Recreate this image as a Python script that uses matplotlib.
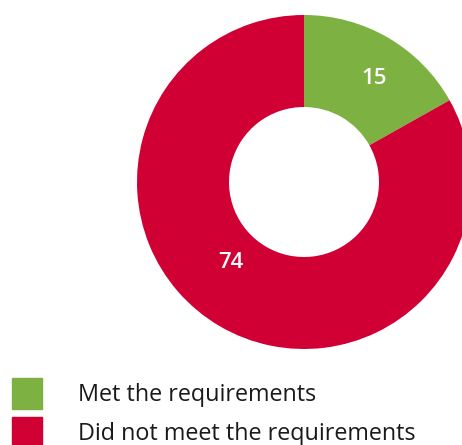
import numpy as np
import matplotlib.pyplot as plt
from matplotlib.patches import Rectangle

plt.rcParams['font.family'] = ['Open Sans', 'DejaVu Sans']

categories = ["Met the requirements", "Did not meet the requirements"]
values = [15, 74]
colors = ["#7DB142", "#D10034"]

W, H = 462, 445
fig = plt.figure(figsize=(W / 100, H / 100), dpi=100)

# donut axes: center ~(304,182) px, outer radius ~167 px
cx, cy, R = 304, 182, 167
ax = fig.add_axes([(cx - R) / W, (H - cy - R) / H, 2 * R / W, 2 * R / H])
wedges, _ = ax.pie(values, colors=colors, startangle=90, counterclock=False,
                   radius=1.0, wedgeprops=dict(width=1 - 75 / 167, edgecolor="none"))
ax.set_xlim(-1, 1)
ax.set_ylim(-1, 1)
ax.set_aspect("equal")
ax.axis("off")

# value labels (angle in degrees, radius as fraction of outer)
label_pos = [(56, 0.75), (228, 0.65)]
for w, v, (ang, r) in zip(wedges, values, label_pos):
    a = np.deg2rad(ang)
    ax.text(r * np.cos(a), r * np.sin(a), str(v), color="white", fontsize=16,
            fontweight="semibold", ha="center", va="center")

# legend
for i, (lab, c) in enumerate(zip(categories, colors)):
    top = 378 + i * 39
    fig.patches.append(Rectangle((12 / W, (H - top - 31) / H), 30 / W, 31 / H,
                                 transform=fig.transFigure, color=c, figure=fig))
    fig.text(78 / W, (H - top - 17) / H, lab, fontsize=16.8, color="#1a1a1a",
             ha="left", va="center")

fig.savefig("out.png", dpi=100, facecolor="white")
